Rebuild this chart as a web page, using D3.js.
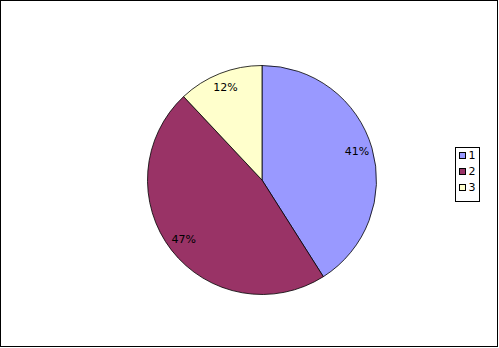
<!DOCTYPE html>
<html>
<head>
<meta charset="utf-8">
<script src="https://cdn.jsdelivr.net/npm/d3@7"></script>
<style>
  html, body { margin: 0; padding: 0; background: #fff; }
  svg { display: block; font-family: "DejaVu Sans", sans-serif; }
</style>
</head>
<body>
<svg id="chart" width="499" height="348"></svg>
<script>
// data
var categories = ["1", "2", "3"];
var values = [41, 47, 12];
var colors = ["#9999FF", "#993366", "#FFFFCC"];

var svg = d3.select("#chart");

// outer frame
svg.append("rect")
    .attr("x", 0.5).attr("y", 0.5)
    .attr("width", 497).attr("height", 346)
    .attr("fill", "#fff")
    .attr("stroke", "#000")
    .attr("stroke-width", 1);

var cx = 262, cy = 180, radius = 114.5, labelRadius = 99;

var pie = d3.pie().sort(null).value(function (d) { return d; });
var arcs = pie(values);
var total = d3.sum(values);

var arc = d3.arc().innerRadius(0).outerRadius(radius);
var labelArc = d3.arc().innerRadius(labelRadius).outerRadius(labelRadius);

var g = svg.append("g").attr("transform", "translate(" + cx + "," + cy + ")");

g.selectAll("path.slice")
    .data(arcs)
    .enter().append("path")
    .attr("class", "slice")
    .attr("d", arc)
    .attr("fill", function (d, i) { return colors[i]; })
    .attr("stroke", "#000")
    .attr("stroke-width", 0.8);

g.selectAll("text.pct")
    .data(arcs)
    .enter().append("text")
    .attr("class", "pct")
    .attr("transform", function (d) { return "translate(" + labelArc.centroid(d) + ")"; })
    .attr("text-anchor", "middle")
    .attr("dy", "0.25em")
    .attr("font-size", 11)
    .attr("fill", "#000")
    .text(function (d) { return Math.round(d.value / total * 100) + "%"; });

// legend
var legend = svg.append("g").attr("class", "legend");
legend.append("rect")
    .attr("x", 455.5).attr("y", 147.5)
    .attr("width", 24).attr("height", 54)
    .attr("fill", "#fff")
    .attr("stroke", "#000")
    .attr("stroke-width", 1);

var rowY = d3.scalePoint().domain(categories).range([155.5, 187.5]);

categories.forEach(function (c, i) {
    legend.append("rect")
        .attr("x", 459.5).attr("y", rowY(c) - 3)
        .attr("width", 6).attr("height", 6)
        .attr("fill", colors[i])
        .attr("stroke", "#000")
        .attr("stroke-width", 1);
    legend.append("text")
        .attr("x", 468.5).attr("y", rowY(c))
        .attr("dy", "0.35em")
        .attr("font-size", 11)
        .attr("fill", "#000")
        .text(c);
});
</script>
</body>
</html>
